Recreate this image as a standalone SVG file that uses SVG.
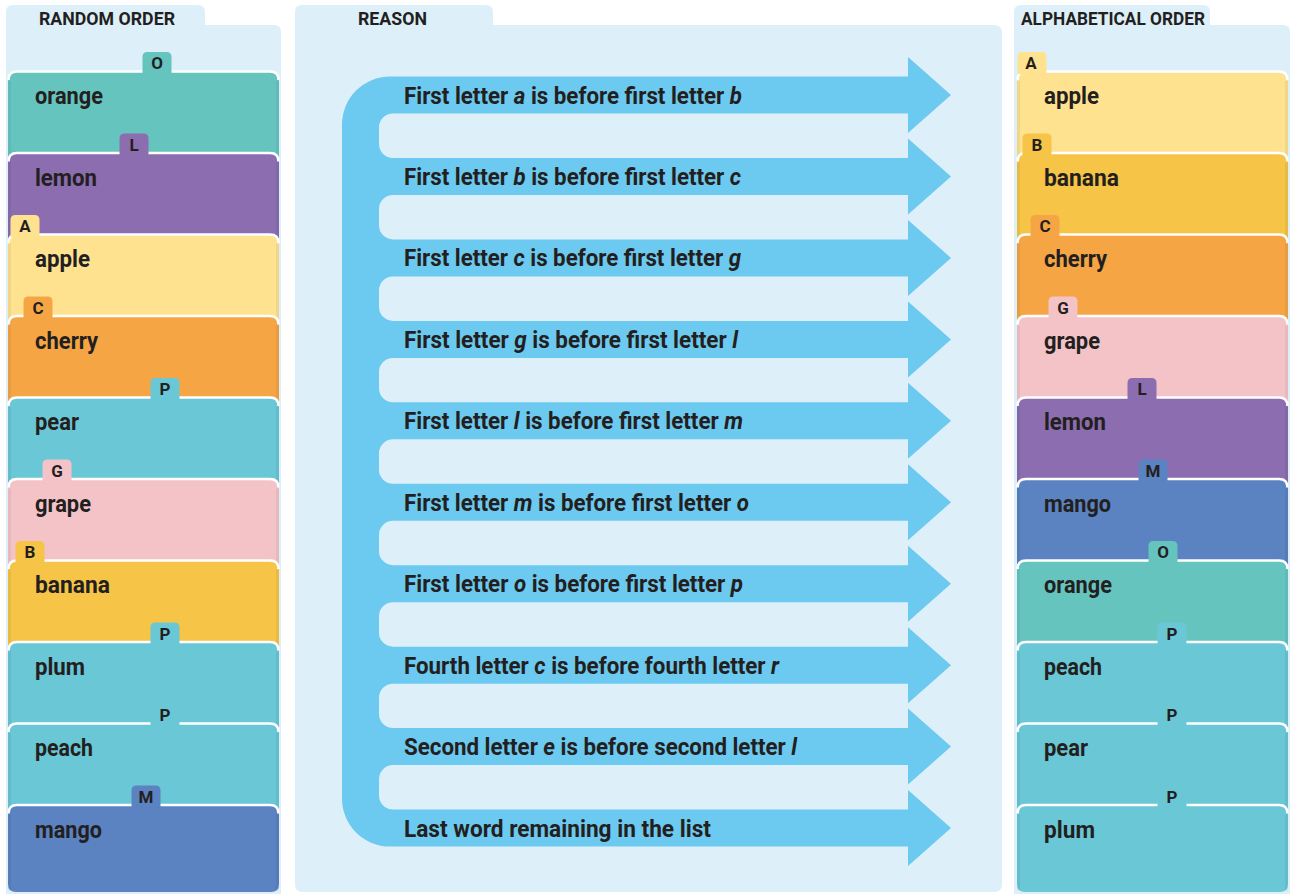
<svg xmlns="http://www.w3.org/2000/svg" xmlns:xlink="http://www.w3.org/1999/xlink" width="1292" height="894" viewBox="0 0 1292 894">
<style>
.panel{fill:#DDF0F9}
.arrow{fill:#6CC9F0}
.t{font-family:Roboto,"Liberation Sans",sans-serif;font-weight:700;fill:#231F20}
.title{font-size:18px}
.lbl{font-size:24px}
.rs{font-size:24px}
.tabl{font-size:17px;text-anchor:middle}
.i{font-style:italic}
.teal{fill:#66C4BF}
.purple{fill:#8C6DAF}
.ltyellow{fill:#FEE290}
.orange{fill:#F6A545}
.ltblue{fill:#6AC7D6}
.pink{fill:#F4C3C8}
.yellow{fill:#F6C446}
.blue{fill:#5B82C1}
</style>
<defs>
<path id="cardBody" d="M0,95 V9 Q0,0 9,0 H262 Q271,0 271,9 V95 Z"/>
<path id="cardLast" d="M0,79.5 V9 Q0,0 9,0 H262 Q271,0 271,9 V79.5 Q271,87.5 263,87.5 H8 Q0,87.5 0,79.5 Z"/>
<path id="cardEdge" d="M0.5,9 Q0.5,0.5 9,0.5 H262 Q270.5,0.5 270.5,9" fill="none" stroke="#FFFFFF" stroke-width="2.5"/>
<path id="cardSides" d="M1.5,10 V86 M269.5,10 V86" fill="none" stroke="#000000" stroke-opacity="0.05" stroke-width="3"/>
<path id="tab" d="M0,22 V5 Q0,0 5,0 H24 Q29,0 29,5 V22 Z"/>
</defs>

<g id="panels">
<path class="panel" d="M6,894 L6,12 Q6,5 13,5 L198,5 Q205,5 205,12 L205,25 L274,25 Q281,25 281,32 L281,894 Z"/>
<path class="panel" d="M295,884 L295,12 Q295,5 302,5 L486,5 Q493,5 493,12 L493,25 L994,25 Q1002,25 1002,33 L1002,884 Q1002,892 994,892 L303,892 Q295,892 295,884 Z"/>
<path class="panel" d="M1014,894 L1014,12 Q1014,5 1021,5 L1203,5 Q1210,5 1210,12 L1210,25 L1283,25 Q1290,25 1290,32 L1290,894 Z"/>
<text class="t title" x="39" y="25" textLength="136" lengthAdjust="spacingAndGlyphs">RANDOM ORDER</text>
<text class="t title" x="358" y="25" textLength="69" lengthAdjust="spacingAndGlyphs">REASON</text>
<text class="t title" x="1021" y="25" textLength="184" lengthAdjust="spacingAndGlyphs">ALPHABETICAL ORDER</text>
</g>

<g id="random-order">
<g id="l-orange" class="teal"><use xlink:href="#cardBody" x="8" y="71"/><use xlink:href="#cardSides" x="8" y="71"/><use xlink:href="#cardEdge" x="8" y="71"/><use xlink:href="#tab" x="142.5" y="52"/><text class="t lbl" x="35" y="104" textLength="68" lengthAdjust="spacingAndGlyphs">orange</text><text class="t tabl" x="157" y="69">O</text></g>
<g id="l-lemon" class="purple"><use xlink:href="#cardBody" x="8" y="152.5"/><use xlink:href="#cardSides" x="8" y="152.5"/><use xlink:href="#cardEdge" x="8" y="152.5"/><use xlink:href="#tab" x="119.5" y="133.5"/><text class="t lbl" x="35" y="185.5" textLength="62" lengthAdjust="spacingAndGlyphs">lemon</text><text class="t tabl" x="134" y="150.5">L</text></g>
<g id="l-apple" class="ltyellow"><use xlink:href="#cardBody" x="8" y="234"/><use xlink:href="#cardSides" x="8" y="234"/><use xlink:href="#cardEdge" x="8" y="234"/><use xlink:href="#tab" x="10.5" y="215"/><text class="t lbl" x="35" y="267" textLength="55" lengthAdjust="spacingAndGlyphs">apple</text><text class="t tabl" x="25" y="232">A</text></g>
<g id="l-cherry" class="orange"><use xlink:href="#cardBody" x="8" y="315.5"/><use xlink:href="#cardSides" x="8" y="315.5"/><use xlink:href="#cardEdge" x="8" y="315.5"/><use xlink:href="#tab" x="23.5" y="296.5"/><text class="t lbl" x="35" y="348.5" textLength="63" lengthAdjust="spacingAndGlyphs">cherry</text><text class="t tabl" x="38" y="313.5">C</text></g>
<g id="l-pear" class="ltblue"><use xlink:href="#cardBody" x="8" y="397"/><use xlink:href="#cardSides" x="8" y="397"/><use xlink:href="#cardEdge" x="8" y="397"/><use xlink:href="#tab" x="150.5" y="378"/><text class="t lbl" x="35" y="430" textLength="44" lengthAdjust="spacingAndGlyphs">pear</text><text class="t tabl" x="165" y="395">P</text></g>
<g id="l-grape" class="pink"><use xlink:href="#cardBody" x="8" y="478.5"/><use xlink:href="#cardSides" x="8" y="478.5"/><use xlink:href="#cardEdge" x="8" y="478.5"/><use xlink:href="#tab" x="42.5" y="459.5"/><text class="t lbl" x="35" y="511.5" textLength="56" lengthAdjust="spacingAndGlyphs">grape</text><text class="t tabl" x="57" y="476.5">G</text></g>
<g id="l-banana" class="yellow"><use xlink:href="#cardBody" x="8" y="560"/><use xlink:href="#cardSides" x="8" y="560"/><use xlink:href="#cardEdge" x="8" y="560"/><use xlink:href="#tab" x="15.5" y="541"/><text class="t lbl" x="35" y="593" textLength="75" lengthAdjust="spacingAndGlyphs">banana</text><text class="t tabl" x="30" y="558">B</text></g>
<g id="l-plum" class="ltblue"><use xlink:href="#cardBody" x="8" y="641.5"/><use xlink:href="#cardSides" x="8" y="641.5"/><use xlink:href="#cardEdge" x="8" y="641.5"/><use xlink:href="#tab" x="150.5" y="622.5"/><text class="t lbl" x="35" y="674.5" textLength="50" lengthAdjust="spacingAndGlyphs">plum</text><text class="t tabl" x="165" y="639.5">P</text></g>
<g id="l-peach" class="ltblue"><use xlink:href="#cardBody" x="8" y="723"/><use xlink:href="#cardSides" x="8" y="723"/><use xlink:href="#cardEdge" x="8" y="723"/><use xlink:href="#tab" x="150.5" y="704"/><text class="t lbl" x="35" y="756" textLength="58" lengthAdjust="spacingAndGlyphs">peach</text><text class="t tabl" x="165" y="721">P</text></g>
<g id="l-mango" class="blue"><use xlink:href="#cardLast" x="8" y="804.5"/><use xlink:href="#cardSides" x="8" y="804.5"/><use xlink:href="#cardEdge" x="8" y="804.5"/><use xlink:href="#tab" x="131.5" y="785.5"/><text class="t lbl" x="35" y="837.5" textLength="67" lengthAdjust="spacingAndGlyphs">mango</text><text class="t tabl" x="146" y="802.5">M</text></g>
</g>

<g id="alphabetical-order">
<g id="r-apple" class="ltyellow"><use xlink:href="#cardBody" x="1017" y="71"/><use xlink:href="#cardSides" x="1017" y="71"/><use xlink:href="#cardEdge" x="1017" y="71"/><use xlink:href="#tab" x="1017.5" y="52"/><text class="t lbl" x="1044" y="104" textLength="55" lengthAdjust="spacingAndGlyphs">apple</text><text class="t tabl" x="1031" y="69">A</text></g>
<g id="r-banana" class="yellow"><use xlink:href="#cardBody" x="1017" y="152.5"/><use xlink:href="#cardSides" x="1017" y="152.5"/><use xlink:href="#cardEdge" x="1017" y="152.5"/><use xlink:href="#tab" x="1022.5" y="133.5"/><text class="t lbl" x="1044" y="185.5" textLength="75" lengthAdjust="spacingAndGlyphs">banana</text><text class="t tabl" x="1037" y="150.5">B</text></g>
<g id="r-cherry" class="orange"><use xlink:href="#cardBody" x="1017" y="234"/><use xlink:href="#cardSides" x="1017" y="234"/><use xlink:href="#cardEdge" x="1017" y="234"/><use xlink:href="#tab" x="1030.5" y="215"/><text class="t lbl" x="1044" y="267" textLength="63" lengthAdjust="spacingAndGlyphs">cherry</text><text class="t tabl" x="1045" y="232">C</text></g>
<g id="r-grape" class="pink"><use xlink:href="#cardBody" x="1017" y="315.5"/><use xlink:href="#cardSides" x="1017" y="315.5"/><use xlink:href="#cardEdge" x="1017" y="315.5"/><use xlink:href="#tab" x="1048.5" y="296.5"/><text class="t lbl" x="1044" y="348.5" textLength="56" lengthAdjust="spacingAndGlyphs">grape</text><text class="t tabl" x="1063" y="313.5">G</text></g>
<g id="r-lemon" class="purple"><use xlink:href="#cardBody" x="1017" y="397"/><use xlink:href="#cardSides" x="1017" y="397"/><use xlink:href="#cardEdge" x="1017" y="397"/><use xlink:href="#tab" x="1127.5" y="378"/><text class="t lbl" x="1044" y="430" textLength="62" lengthAdjust="spacingAndGlyphs">lemon</text><text class="t tabl" x="1142" y="395">L</text></g>
<g id="r-mango" class="blue"><use xlink:href="#cardBody" x="1017" y="478.5"/><use xlink:href="#cardSides" x="1017" y="478.5"/><use xlink:href="#cardEdge" x="1017" y="478.5"/><use xlink:href="#tab" x="1138.5" y="459.5"/><text class="t lbl" x="1044" y="511.5" textLength="67" lengthAdjust="spacingAndGlyphs">mango</text><text class="t tabl" x="1153" y="476.5">M</text></g>
<g id="r-orange" class="teal"><use xlink:href="#cardBody" x="1017" y="560"/><use xlink:href="#cardSides" x="1017" y="560"/><use xlink:href="#cardEdge" x="1017" y="560"/><use xlink:href="#tab" x="1148.5" y="541"/><text class="t lbl" x="1044" y="593" textLength="68" lengthAdjust="spacingAndGlyphs">orange</text><text class="t tabl" x="1163" y="558">O</text></g>
<g id="r-peach" class="ltblue"><use xlink:href="#cardBody" x="1017" y="641.5"/><use xlink:href="#cardSides" x="1017" y="641.5"/><use xlink:href="#cardEdge" x="1017" y="641.5"/><use xlink:href="#tab" x="1157.5" y="622.5"/><text class="t lbl" x="1044" y="674.5" textLength="58" lengthAdjust="spacingAndGlyphs">peach</text><text class="t tabl" x="1172" y="639.5">P</text></g>
<g id="r-pear" class="ltblue"><use xlink:href="#cardBody" x="1017" y="723"/><use xlink:href="#cardSides" x="1017" y="723"/><use xlink:href="#cardEdge" x="1017" y="723"/><use xlink:href="#tab" x="1157.5" y="704"/><text class="t lbl" x="1044" y="756" textLength="44" lengthAdjust="spacingAndGlyphs">pear</text><text class="t tabl" x="1172" y="721">P</text></g>
<g id="r-plum" class="ltblue"><use xlink:href="#cardLast" x="1017" y="804.5"/><use xlink:href="#cardSides" x="1017" y="804.5"/><use xlink:href="#cardEdge" x="1017" y="804.5"/><use xlink:href="#tab" x="1157.5" y="785.5"/><text class="t lbl" x="1044" y="837.5" textLength="51" lengthAdjust="spacingAndGlyphs">plum</text><text class="t tabl" x="1172" y="802.5">P</text></g>
</g>

<g id="connectors">
<path class="arrow" d="M342,124.5 A48,48 0 0 1 390,76.5 L908,76.5 L908,57 L951,95 L908,133 L908,113.5 L393,113.5 A14,14 0 0 0 379,127.5 L379,144 A14,14 0 0 0 393,158
L908,158 L908,138.5 L951,176.5 L908,214.5 L908,195 L393,195 A14,14 0 0 0 379,209 L379,225.4 A14,14 0 0 0 393,239.4
L908,239.4 L908,219.9 L951,257.9 L908,295.9 L908,276.4 L393,276.4 A14,14 0 0 0 379,290.4 L379,306.9 A14,14 0 0 0 393,320.9
L908,320.9 L908,301.4 L951,339.4 L908,377.4 L908,357.9 L393,357.9 A14,14 0 0 0 379,371.9 L379,388.3 A14,14 0 0 0 393,402.3
L908,402.3 L908,382.8 L951,420.8 L908,458.8 L908,439.3 L393,439.3 A14,14 0 0 0 379,453.3 L379,469.8 A14,14 0 0 0 393,483.8
L908,483.8 L908,464.3 L951,502.3 L908,540.3 L908,520.8 L393,520.8 A14,14 0 0 0 379,534.8 L379,551.2 A14,14 0 0 0 393,565.2
L908,565.2 L908,545.7 L951,583.7 L908,621.7 L908,602.2 L393,602.2 A14,14 0 0 0 379,616.2 L379,632.7 A14,14 0 0 0 393,646.7
L908,646.7 L908,627.2 L951,665.2 L908,703.2 L908,683.7 L393,683.7 A14,14 0 0 0 379,697.7 L379,714.1 A14,14 0 0 0 393,728.1
L908,728.1 L908,708.6 L951,746.6 L908,784.6 L908,765.1 L393,765.1 A14,14 0 0 0 379,779.1 L379,795.6 A14,14 0 0 0 393,809.6
L908,809.6 L908,790.1 L951,828.1 L908,866.1 L908,846.6 L390,846.6 A48,48 0 0 1 342,798.6 Z"/>
</g>

<g id="reasons">
<text id="reason-1" class="t rs" x="404" y="103.5" textLength="338" lengthAdjust="spacingAndGlyphs">First letter <tspan class="i">a</tspan> is before first letter <tspan class="i">b</tspan></text>
<text id="reason-2" class="t rs" x="404" y="185" textLength="337" lengthAdjust="spacingAndGlyphs">First letter <tspan class="i">b</tspan> is before first letter <tspan class="i">c</tspan></text>
<text id="reason-3" class="t rs" x="404" y="266.4" textLength="337" lengthAdjust="spacingAndGlyphs">First letter <tspan class="i">c</tspan> is before first letter <tspan class="i">g</tspan></text>
<text id="reason-4" class="t rs" x="404" y="347.9" textLength="334" lengthAdjust="spacingAndGlyphs">First letter <tspan class="i">g</tspan> is before first letter <tspan class="i">l</tspan></text>
<text id="reason-5" class="t rs" x="404" y="429.3" textLength="339" lengthAdjust="spacingAndGlyphs">First letter <tspan class="i">l</tspan> is before first letter <tspan class="i">m</tspan></text>
<text id="reason-6" class="t rs" x="404" y="510.8" textLength="345" lengthAdjust="spacingAndGlyphs">First letter <tspan class="i">m</tspan> is before first letter <tspan class="i">o</tspan></text>
<text id="reason-7" class="t rs" x="404" y="592.2" textLength="339" lengthAdjust="spacingAndGlyphs">First letter <tspan class="i">o</tspan> is before first letter <tspan class="i">p</tspan></text>
<text id="reason-8" class="t rs" x="404" y="673.7" textLength="375" lengthAdjust="spacingAndGlyphs">Fourth letter <tspan class="i">c</tspan> is before fourth letter <tspan class="i">r</tspan></text>
<text id="reason-9" class="t rs" x="404" y="755.1" textLength="393" lengthAdjust="spacingAndGlyphs">Second letter <tspan class="i">e</tspan> is before second letter <tspan class="i">l</tspan></text>
<text id="reason-10" class="t rs" x="404" y="836.6" textLength="307" lengthAdjust="spacingAndGlyphs">Last word remaining in the list</text>
</g>
</svg>
